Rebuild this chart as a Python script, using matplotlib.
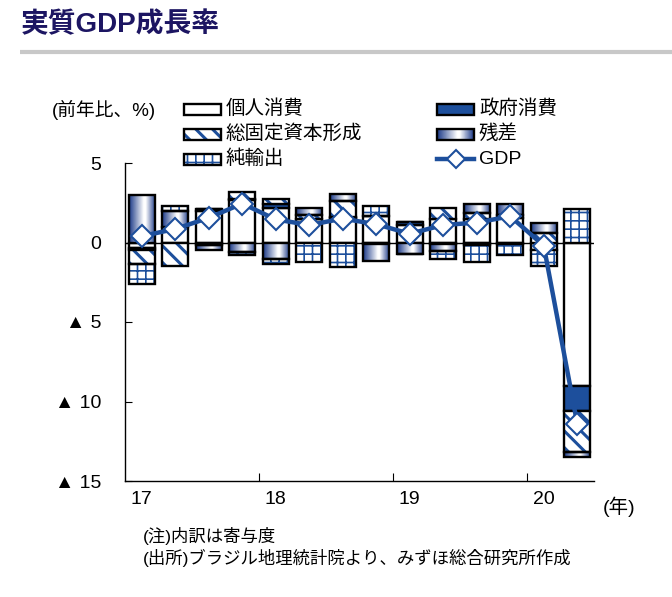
import numpy as np
import matplotlib
matplotlib.use('Agg')
import matplotlib.pyplot as plt
from matplotlib.colors import LinearSegmentedColormap
from matplotlib.patches import Rectangle

plt.rcParams['font.family'] = ['Liberation Sans', 'Noto Sans CJK JP', 'DejaVu Sans']
plt.rcParams['hatch.linewidth'] = 2.2

# ---------------- data ----------------
quarters = ['17Q1', '17Q2', '17Q3', '17Q4', '18Q1', '18Q2', '18Q3', '18Q4',
            '19Q1', '19Q2', '19Q3', '19Q4', '20Q1', '20Q2']
year_labels = ['17', '18', '19', '20']
year_label_pos = [0, 4, 8, 12]
year_bounds = [3.5, 7.5, 11.5]

personal = [-0.35, 1.0, 2.0, 2.65, 2.2, 1.45, 1.55, 1.65, 1.1, 1.45, 1.45, 1.55, -0.5, -9.05]
government = [-0.15, 0.0, 0.1, 0.1, 0.25, 0.0, 0.05, -0.1, 0.2, -0.1, -0.15, -0.1, 0.0, -1.55]
gfcf = [-0.85, -1.45, -0.15, 0.45, 0.3, 0.3, 1.0, 0.0, 0.0, 0.7, 0.4, 0.2, 0.6, -2.6]
residual = [3.0, 1.0, -0.35, -0.6, -1.05, 0.45, 0.45, -1.05, -0.7, -0.45, 0.55, 0.7, 0.6, -0.3]
net_exports = [-1.25, 0.3, 0.0, -0.2, -0.3, -1.2, -1.55, 0.65, -0.05, -0.5, -1.1, -0.7, -1.0, 2.1]
gdp = [0.4, 0.85, 1.55, 2.45, 1.45, 1.1, 1.5, 1.15, 0.55, 1.1, 1.25, 1.65, -0.2, -11.4]

series_names = ['個人消費', '政府消費', '総固定資本形成', '残差', '純輸出']
y_ticks = [5, 0, -5, -10, -15]
y_tick_labels = ['5', '0', '▲ 5', '▲ 10', '▲ 15']

# ---------------- style ----------------
BLUE = '#1d4f9c'
NAVY = '#1c3a88'
grad_cmap = LinearSegmentedColormap.from_list(
    'resid', [(0.0, NAVY), (0.55, '#ffffff'), (0.62, '#ffffff'), (1.0, NAVY)])
grad = np.linspace(0, 1, 64).reshape(1, -1)
W = 0.78
EDGE_LW = 1.7
GRID_HATCH_LW = 1.2


def thin_hatch(artists):
    for a in artists:
        if hasattr(a, 'set_hatch_linewidth'):
            a.set_hatch_linewidth(GRID_HATCH_LW)


fig = plt.figure(figsize=(6.72, 5.97), dpi=100)
ax = fig.add_axes([125 / 672, 1 - 481 / 597, 469 / 672, 318 / 597])

x = np.arange(len(quarters))
pos_base = np.zeros(len(x))
neg_base = np.zeros(len(x))
series = [personal, government, gfcf, residual, net_exports]
for k, vals in enumerate(series):
    vals = np.asarray(vals, dtype=float)
    bottoms = np.where(vals >= 0, pos_base, neg_base)
    if k == 0:
        ax.bar(x, vals, bottom=bottoms, width=W, color='white', edgecolor='black',
               linewidth=EDGE_LW, zorder=2)
    elif k == 1:
        ax.bar(x, vals, bottom=bottoms, width=W, color=BLUE, edgecolor='black',
               linewidth=EDGE_LW, zorder=2)
    elif k == 2:
        ax.bar(x, vals, bottom=bottoms, width=W, color='white', edgecolor=BLUE,
               linewidth=0, hatch='\\\\', zorder=2)
        ax.bar(x, vals, bottom=bottoms, width=W, fill=False, edgecolor='black',
               linewidth=EDGE_LW, zorder=3)
    elif k == 3:
        for xi, b, v in zip(x, bottoms, vals):
            if v != 0:
                ax.imshow(grad, cmap=grad_cmap, aspect='auto', interpolation='bilinear',
                          extent=(xi - W / 2, xi + W / 2, b, b + v), zorder=2)
        ax.bar(x, vals, bottom=bottoms, width=W, fill=False, edgecolor='black',
               linewidth=EDGE_LW, zorder=3)
    else:
        bars = ax.bar(x, vals, bottom=bottoms, width=W, color='white', edgecolor=BLUE,
                      linewidth=0, hatch='++', zorder=2)
        thin_hatch(bars.patches)
        ax.bar(x, vals, bottom=bottoms, width=W, fill=False, edgecolor='black',
               linewidth=EDGE_LW, zorder=3)
    pos_base = pos_base + np.where(vals > 0, vals, 0)
    neg_base = neg_base + np.where(vals < 0, vals, 0)

ax.axhline(0, color='black', lw=1.0, zorder=1.5)
ax.plot(x, gdp, color=BLUE, lw=3.2, marker='D', ms=11, mfc='white', mec=BLUE,
        mew=1.5, zorder=6)

ax.set_xlim(-0.5, len(x) - 0.5)
ax.set_ylim(-15, 5)
for s in ['top', 'right']:
    ax.spines[s].set_visible(False)
for s in ['left', 'bottom']:
    ax.spines[s].set_linewidth(1.0)
ax.set_yticks(y_ticks)
ax.set_yticklabels(y_tick_labels)
ax.tick_params(axis='y', direction='in', length=5, pad=17, labelsize=14)
ax.set_xticks(year_bounds)
ax.set_xticklabels([])
ax.tick_params(axis='x', which='major', direction='in', length=6)
ax.set_xticks(year_label_pos, minor=True)
ax.set_xticklabels(year_labels, minor=True)
ax.tick_params(axis='x', which='minor', length=0, pad=7, labelsize=14)

# ---------------- overlay: title, legend, notes ----------------
ov = fig.add_axes([0, 0, 1, 1], zorder=10)
ov.set_xlim(0, 672)
ov.set_ylim(597, 0)
ov.axis('off')

ov.text(21, 25, '実質GDP成長率', fontsize=20, fontweight='bold', color='#1c1562',
        ha='left', va='center')
ov.plot([20, 672], [52, 52], color='#c8c8c8', lw=3, solid_capstyle='butt')

ov.text(52, 110, '(前年比、%)', fontsize=13.5, ha='left', va='center')

PW, PH = 37, 11
legend_slots = [(184, 109), (437, 109), (184, 134), (437, 134), (184, 159)]
for k, (name, (lx, ly)) in enumerate(zip(series_names, legend_slots)):
    if k == 0:
        ov.add_patch(Rectangle((lx, ly - PH / 2), PW, PH, facecolor='white',
                               edgecolor='black', lw=EDGE_LW))
    elif k == 1:
        ov.add_patch(Rectangle((lx, ly - PH / 2), PW, PH, facecolor=BLUE,
                               edgecolor='black', lw=EDGE_LW))
    elif k == 2:
        ov.add_patch(Rectangle((lx, ly - PH / 2), PW, PH, facecolor='white',
                               edgecolor=BLUE, lw=0, hatch='\\\\'))
        ov.add_patch(Rectangle((lx, ly - PH / 2), PW, PH, fill=False,
                               edgecolor='black', lw=EDGE_LW))
    elif k == 3:
        ov.imshow(grad, cmap=grad_cmap, aspect='auto', interpolation='bilinear',
                  extent=(lx, lx + PW, ly + PH / 2, ly - PH / 2))
        ov.add_patch(Rectangle((lx, ly - PH / 2), PW, PH, fill=False,
                               edgecolor='black', lw=EDGE_LW))
    else:
        p = ov.add_patch(Rectangle((lx, ly - PH / 2), PW, PH, facecolor='white',
                                   edgecolor=BLUE, lw=0, hatch='++'))
        thin_hatch([p])
        ov.add_patch(Rectangle((lx, ly - PH / 2), PW, PH, fill=False,
                               edgecolor='black', lw=EDGE_LW))
    ov.text(lx + PW + 5, ly, name, fontsize=14, ha='left', va='center')

ov.plot([437, 437 + PW], [159, 159], color=BLUE, lw=3.2)
ov.plot([437 + PW / 2], [159], marker='D', ms=9, mfc='white', mec=BLUE, mew=1.5)
ov.text(437 + PW + 5, 159, 'GDP', fontsize=14, ha='left', va='center')
ov.set_xlim(0, 672)
ov.set_ylim(597, 0)

ov.text(603, 507, '(年)', fontsize=14, ha='left', va='center')
ov.text(143, 536, '(注)内訳は寄与度', fontsize=12.5, ha='left', va='center')
ov.text(143, 558, '(出所)ブラジル地理統計院より、みずほ総合研究所作成', fontsize=12.5,
        ha='left', va='center')

fig.savefig('out.png', dpi=100)
